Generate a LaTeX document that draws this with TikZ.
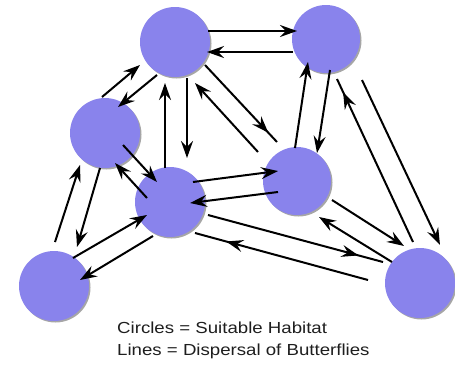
\documentclass[tikz,border=0pt]{standalone}
\usepackage{fontspec}
\setmainfont{Liberation Sans}
\usetikzlibrary{arrows.meta,shadows,decorations.markings}
\definecolor{habitat}{RGB}{137,131,236}
\definecolor{txt}{RGB}{30,30,30}
\begin{document}
\begin{tikzpicture}[x=1pt,y=-1pt,
  patch/.style={circle,fill=habitat,minimum size=#1,inner sep=0pt,
    drop shadow={shadow xshift=1.5pt,shadow yshift=-1.5pt,fill=black,opacity=0.35}},
  patch/.default=70pt,
  arr/.style={line width=2pt,draw=black,-{Stealth[length=17pt,width=12pt,inset=6pt]}},
  link/.style={line width=2pt,draw=black},
  midarr/.style={link,decoration={markings,mark=at position #1 with {\arrow{Stealth[length=17pt,width=12pt,inset=6pt]}}},postaction={decorate}},
  lbl/.style={anchor=base west,font=\fontsize{16}{19}\selectfont,text=txt,inner sep=0pt,xscale=1.165}]
\useasboundingbox (0,0) rectangle (455,365);
% habitat patches
\node[patch] (A) at (175,42) {};
\node[patch=68pt] (B) at (326,39) {};
\node[patch] (C) at (105,133) {};
\node[patch] (D) at (170,202) {};
\node[patch=68pt] (E) at (297,181) {};
\node[patch] (F) at (54,286) {};
\node[patch] (G) at (420,283) {};
% dispersal links
\draw[arr] ([shift={(33,-11)}]A.center) -- ([shift={(-29,-8)}]B.center);
\draw[arr] ([shift={(-33,13)}]B.center) -- ([shift={(32,10)}]A.center);
\draw[arr] ([shift={(-3,-36)}]C.center) -- ([shift={(-35,23)}]A.center);
\draw[arr] ([shift={(-18,33)}]A.center) -- ([shift={(13,-26)}]C.center);
\draw[arr] ([shift={(-5,-34)}]D.center) -- ([shift={(-10,41)}]A.center);
\draw[arr] ([shift={(12,36)}]A.center) -- ([shift={(17,-44)}]D.center);
\draw[midarr=0.88] ([shift={(30,23)}]A.center) -- ([shift={(-20,-39)}]E.center);
\draw[arr] ([shift={(-39,-29)}]E.center) -- ([shift={(20,41)}]A.center);
\draw[arr] ([shift={(-2,-33)}]E.center) -- ([shift={(-18,23)}]B.center);
\draw[arr] ([shift={(4,31)}]B.center) -- ([shift={(20,-28)}]E.center);
\draw[midarr=0.92] ([shift={(-7,-41)}]G.center) -- ([shift={(11,40)}]B.center);
\draw[arr] ([shift={(36,41)}]B.center) -- ([shift={(20,-38)}]G.center);
\draw[arr] ([shift={(18,12)}]C.center) -- ([shift={(-13,-20)}]D.center);
\draw[arr] ([shift={(-23,-4)}]D.center) -- ([shift={(10,30)}]C.center);
\draw[arr] ([shift={(1,-44)}]F.center) -- ([shift={(-25,32)}]C.center);
\draw[arr] ([shift={(-5,35)}]C.center) -- ([shift={(23,-39)}]F.center);
\draw[arr] ([shift={(19,-28)}]F.center) -- ([shift={(-23,13)}]D.center);
\draw[arr] ([shift={(-17,34)}]D.center) -- ([shift={(26,-6)}]F.center);
\draw[arr] ([shift={(23,-20)}]D.center) -- ([shift={(-19,-10)}]E.center);
\draw[arr] ([shift={(-19,11)}]E.center) -- ([shift={(20,1)}]D.center);
\draw[midarr=0.86] ([shift={(38,13)}]D.center) -- ([shift={(-37,-21)}]G.center);
\draw[midarr=0.82] ([shift={(-52,-3)}]G.center) -- ([shift={(25,31)}]D.center);
\draw[arr] ([shift={(35,19)}]E.center) -- ([shift={(-16,-37)}]G.center);
\draw[arr] ([shift={(-28,-21)}]G.center) -- ([shift={(22,36)}]E.center);
% legend
\node[lbl] (l1) at (117,333) {Circles = Suitable Habitat};
\node[lbl] (l2) at (117,355) {Lines = Dispersal of Butterflies};
\end{tikzpicture}
\end{document}
